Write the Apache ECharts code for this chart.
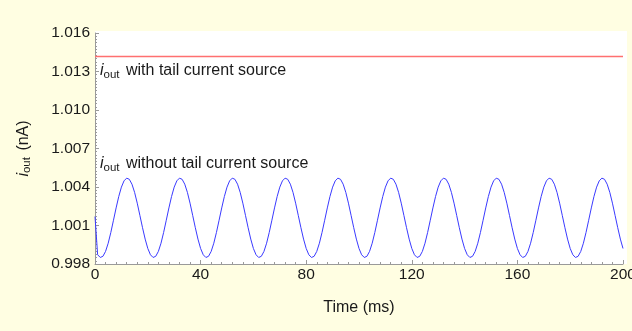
<!DOCTYPE html>
<html>
<head>
<meta charset="utf-8">
<script src="https://cdn.jsdelivr.net/npm/echarts@6/dist/echarts.min.js"></script>
<style>
    html, body { margin: 0; padding: 0; background: #fffee2; }
    #chart { width: 632px; height: 331px; }
</style>
</head>
<body>
<div id="chart"></div>
<script>
// y axis tick labels (nA)
const yTicks = [0.998, 1.001, 1.004, 1.007, 1.010, 1.013, 1.016];
const xTicks = [0, 40, 80, 120, 160, 200];

// with tail current source: flat
const redTimes = [0, 20, 40, 60, 80, 100, 120, 140, 160, 180, 200];
const redValues = [1.01416, 1.01416, 1.01416, 1.01416, 1.01416, 1.01416, 1.01416, 1.01416, 1.01416, 1.01416, 1.01416];

// without tail current source: one reading per ms, 0..200 ms
const blueStepMs = 1;
const blueValues = [
    1.00170, 0.99872, 0.99851, 0.99860, 0.99898, 0.99962, 1.00046, 1.00141, 1.00237, 1.00326,
    1.00399, 1.00448, 1.00469, 1.00460, 1.00422, 1.00358, 1.00274, 1.00179, 1.00083, 0.99994,
    0.99921, 0.99872, 0.99851, 0.99860, 0.99898, 0.99962, 1.00046, 1.00141, 1.00237, 1.00326,
    1.00399, 1.00448, 1.00469, 1.00460, 1.00422, 1.00358, 1.00274, 1.00179, 1.00083, 0.99994,
    0.99921, 0.99872, 0.99851, 0.99860, 0.99898, 0.99962, 1.00046, 1.00141, 1.00237, 1.00326,
    1.00399, 1.00448, 1.00469, 1.00460, 1.00422, 1.00358, 1.00274, 1.00179, 1.00083, 0.99994,
    0.99921, 0.99872, 0.99851, 0.99860, 0.99898, 0.99962, 1.00046, 1.00141, 1.00237, 1.00326,
    1.00399, 1.00448, 1.00469, 1.00460, 1.00422, 1.00358, 1.00274, 1.00179, 1.00083, 0.99994,
    0.99921, 0.99872, 0.99851, 0.99860, 0.99898, 0.99962, 1.00046, 1.00141, 1.00237, 1.00326,
    1.00399, 1.00448, 1.00469, 1.00460, 1.00422, 1.00358, 1.00274, 1.00179, 1.00083, 0.99994,
    0.99921, 0.99872, 0.99851, 0.99860, 0.99898, 0.99962, 1.00046, 1.00141, 1.00237, 1.00326,
    1.00399, 1.00448, 1.00469, 1.00460, 1.00422, 1.00358, 1.00274, 1.00179, 1.00083, 0.99994,
    0.99921, 0.99872, 0.99851, 0.99860, 0.99898, 0.99962, 1.00046, 1.00141, 1.00237, 1.00326,
    1.00399, 1.00448, 1.00469, 1.00460, 1.00422, 1.00358, 1.00274, 1.00179, 1.00083, 0.99994,
    0.99921, 0.99872, 0.99851, 0.99860, 0.99898, 0.99962, 1.00046, 1.00141, 1.00237, 1.00326,
    1.00399, 1.00448, 1.00469, 1.00460, 1.00422, 1.00358, 1.00274, 1.00179, 1.00083, 0.99994,
    0.99921, 0.99872, 0.99851, 0.99860, 0.99898, 0.99962, 1.00046, 1.00141, 1.00237, 1.00326,
    1.00399, 1.00448, 1.00469, 1.00460, 1.00422, 1.00358, 1.00274, 1.00179, 1.00083, 0.99994,
    0.99921, 0.99872, 0.99851, 0.99860, 0.99898, 0.99962, 1.00046, 1.00141, 1.00237, 1.00326,
    1.00399, 1.00448, 1.00469, 1.00460, 1.00422, 1.00358, 1.00274, 1.00179, 1.00083, 0.99994,
    0.99921
];

const font = '"Liberation Sans", Arial, sans-serif';
const textColor = '#1a1a1a';
const axisGray = '#9a9a9a';

function labelRich(colorKey) {
    const s = {};
    s.i = { fontStyle: 'italic', fontSize: 16, fontFamily: font };
    s.sub = { fontSize: 11.5, fontFamily: font, padding: [7, 2, 0, 0] };
    s.t = { fontSize: 16, fontFamily: font };
    Object.keys(s).forEach(k => { s[k][colorKey] = textColor; });
    return s;
}

const chart = echarts.init(document.getElementById('chart'));

chart.setOption({
    backgroundColor: '#fffee2',
    animation: false,
    grid: { left: 95, right: 9, top: 33, bottom: 67, outerBoundsMode: 'none' },
    graphic: [
        { type: 'rect', z: -10, shape: { x: 95, y: 31, width: 532, height: 233 }, style: { fill: '#ffffff' } },
        {
            type: 'text', left: 100, top: 63, z: 10,
            style: { text: '{i|i}{sub|out}{t| with tail current source}', rich: labelRich('fill') }
        },
        {
            type: 'text', left: 100, top: 156, z: 10,
            style: { text: '{i|i}{sub|out}{t| without tail current source}', rich: labelRich('fill') }
        }
    ],
    xAxis: {
        type: 'value',
        min: 0,
        max: 200,
        interval: 40,
        name: 'Time (ms)',
        nameLocation: 'middle',
        nameGap: 36,
        nameTextStyle: { fontSize: 16, fontFamily: font, color: textColor },
        axisLine: { lineStyle: { color: axisGray, width: 1 } },
        axisTick: { inside: true, length: 4, lineStyle: { color: axisGray } },
        minorTick: { show: true, splitNumber: 10, length: 2, lineStyle: { color: axisGray } },
        axisLabel: { margin: 3, fontSize: 15.5, fontFamily: font, color: textColor },
        splitLine: { show: false }
    },
    yAxis: [{
        type: 'value',
        min: 0.998,
        max: 1.016,
        name: '{i|i}{sub|out}{t| (nA)}',
        nameLocation: 'middle',
        nameGap: 62,
        nameTextStyle: { rich: labelRich('color') },
        axisLine: { show: true, lineStyle: { color: axisGray, width: 1 } },
        axisTick: { show: true, inside: true, length: 4, customValues: yTicks, lineStyle: { color: axisGray } },
        axisLabel: {
            customValues: yTicks,
            margin: 5,
            fontSize: 15.5,
            fontFamily: font,
            color: textColor,
            formatter: v => v.toFixed(3)
        },
        splitLine: { show: false }
    }, {
        // minor ticks only
        type: 'value',
        position: 'left',
        min: 0.998,
        max: 1.016,
        interval: 0.00025,
        axisLine: { show: false },
        axisTick: { show: true, inside: true, length: 2, lineStyle: { color: axisGray } },
        axisLabel: { show: false },
        splitLine: { show: false }
    }],
    series: [{
        name: 'with tail current source',
        type: 'line',
        showSymbol: false,
        lineStyle: { color: '#ff7070', width: 1.5 },
        data: redTimes.map((t, i) => [t, redValues[i]])
    }, {
        name: 'without tail current source',
        type: 'line',
        showSymbol: false,
        lineStyle: { color: '#3a3aff', width: 1 },
        data: blueValues.map((v, i) => [i * blueStepMs, v])
    }]
});
</script>
</body>
</html>
